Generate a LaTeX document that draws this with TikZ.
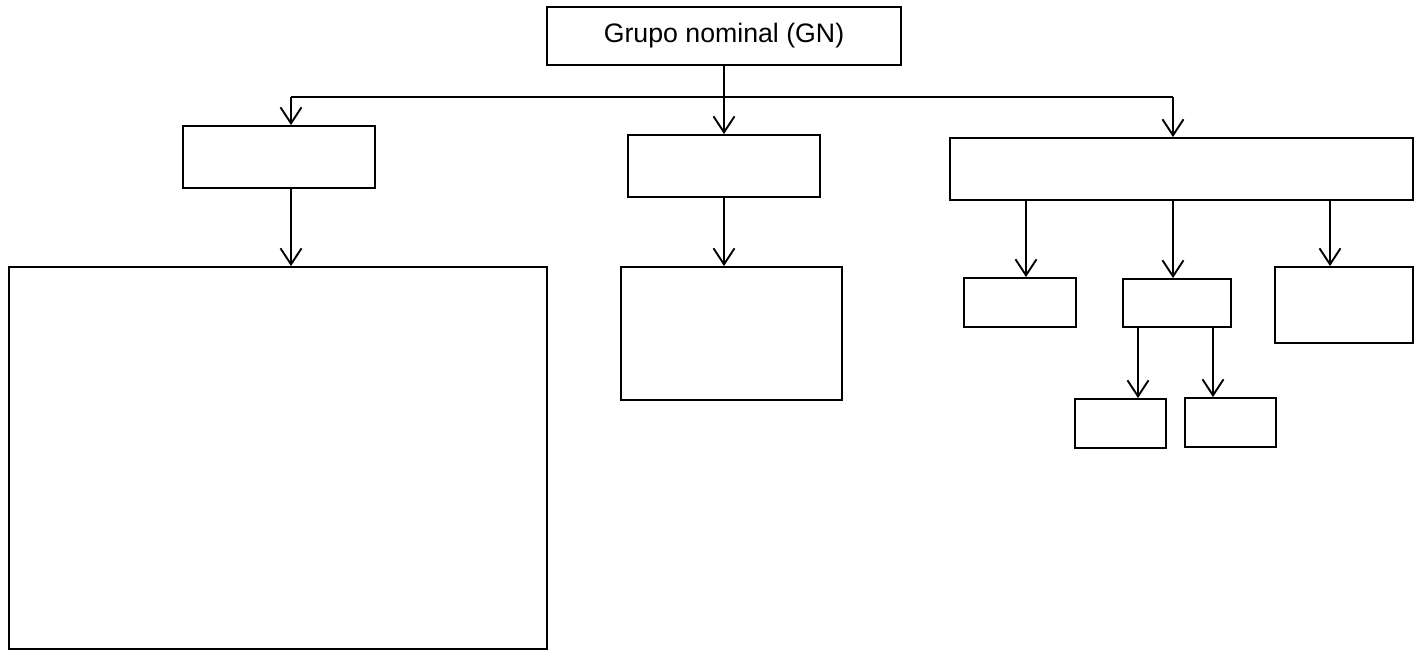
\documentclass[tikz,border=0pt]{standalone}
\usepackage{fontspec}
\setmainfont{Liberation Sans}
\usepackage{tikz}
\usetikzlibrary{arrows.meta}

\begin{document}
\begin{tikzpicture}[
    x=1pt, y=-1pt,
    line width=1.9pt,
    box/.style = {draw, rectangle, inner sep=0pt},
    arr/.style = {-{Straight Barb[length=16pt,width=21pt]}}
  ]
  \useasboundingbox (0,0) rectangle (1422,651);

  % top node
  \node [box, minimum width=354pt, minimum height=58pt,
    font=\fontsize{26.7}{32}\selectfont] (gn) at (724,36) {Grupo nominal (GN)};

  % first row
  \node [box, minimum width=192pt, minimum height=62pt] (det) at (279,157) {};
  \node [box, minimum width=192pt, minimum height=62pt] (nucleo) at (724,166) {};
  \node [box, minimum width=463pt, minimum height=62pt] (comp) at (1181.5,169) {};

  % second row
  \node [box, minimum width=538pt, minimum height=382pt] (detlist) at (278,458) {};
  \node [box, minimum width=221pt, minimum height=133pt] (nuclist) at (731.5,333.5) {};
  \node [box, minimum width=112pt, minimum height=49pt] (compa) at (1020,302.5) {};
  \node [box, minimum width=108pt, minimum height=48pt] (compb) at (1177,303) {};
  \node [box, minimum width=138pt, minimum height=76pt] (compc) at (1344,305) {};

  % third row
  \node [box, minimum width=91pt, minimum height=49pt] (compb1) at (1120.5,423.5) {};
  \node [box, minimum width=91pt, minimum height=49pt] (compb2) at (1230.5,422.5) {};

  % branch points
  \coordinate (split) at (724,97);
  \coordinate (bl) at (291,97);
  \coordinate (bm) at (724,97);
  \coordinate (br) at (1173,97);
  \coordinate (ca) at (1026,0);
  \coordinate (cb) at (1173,0);
  \coordinate (cc) at (1330,0);
  \coordinate (cb1) at (1138,0);
  \coordinate (cb2) at (1213,0);

  \draw (gn.south) -- (split);
  \draw (bl) -- (br);
  \draw [arr] (bl) -- (bl |- det.north);
  \draw [arr] (bm) -- (bm |- nucleo.north);
  \draw [arr] (br) -- (br |- comp.north);

  \draw [arr] (bl |- det.south) -- (bl |- detlist.north);
  \draw [arr] (bm |- nucleo.south) -- (bm |- nuclist.north);

  \draw [arr] (ca |- comp.south) -- (ca |- compa.north);
  \draw [arr] (cb |- comp.south) -- (cb |- compb.north);
  \draw [arr] (cc |- comp.south) -- (cc |- compc.north);

  \draw [arr] (cb1 |- compb.south) -- (cb1 |- compb1.north);
  \draw [arr] (cb2 |- compb.south) -- (cb2 |- compb2.north);
\end{tikzpicture}
\end{document}
